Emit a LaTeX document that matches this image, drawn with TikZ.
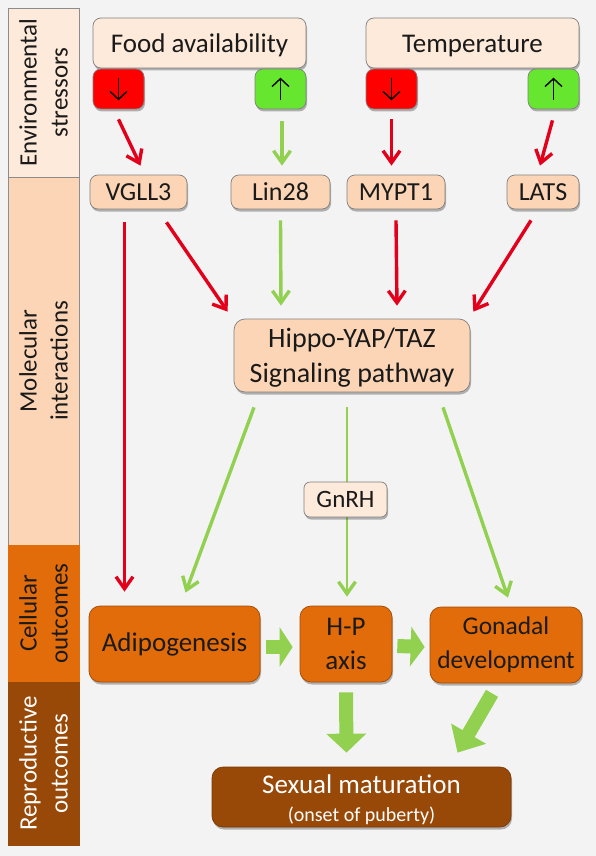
\documentclass[tikz,border=0pt]{standalone}
\usepackage{fontspec}
\setmainfont{Carlito}
\usetikzlibrary{arrows.meta,shadows,calc}
\definecolor{bgc}{HTML}{F3F3F4}
\definecolor{envc}{HTML}{FDEADA}
\definecolor{molc}{HTML}{FBD5B5}
\definecolor{celc}{HTML}{E36C0A}
\definecolor{repc}{HTML}{984807}
\definecolor{arr g}{HTML}{92D050}
\definecolor{arr r}{HTML}{E3001B}
\definecolor{boxg}{HTML}{66E62E}
\definecolor{txt}{HTML}{1A1A1A}
\tikzset{
  x=1pt,y=-1pt,
  side/.style={draw=black!45,line width=.5pt,minimum height=71pt,anchor=center,rotate=90,align=center,inner sep=0pt,font=\fontsize{25}{31}\selectfont,text=txt},
  rbox/.style={rounded corners=8pt,draw=black!50,line width=.7pt,align=center,inner sep=0pt,text=txt,
     drop shadow={shadow xshift=1pt,shadow yshift=-2.5pt,opacity=.28,fill=black}},
  light/.style={rbox,fill=envc,font=\fontsize{27}{32}\selectfont},
  mol/.style={rbox,fill=molc,font=\fontsize{26}{30}\selectfont},
  cel/.style={rbox,rounded corners=11pt,fill=celc,draw=celc!70!black,font=\fontsize{27}{34}\selectfont},
  thinr/.style={arr r,line width=3.4pt,-{Straight Barb[length=12pt,width=17pt,line width=3.4pt]}},
  thing/.style={arr g,line width=3.4pt,-{Straight Barb[length=12pt,width=17pt,line width=3.4pt]}},
  blockg/.style={arr g,line width=14pt,-{Triangle[length=#1,width=39pt]}},
  glyph/.style={black,line width=1.4pt,-{Straight Barb[length=8pt,width=17pt,line width=1.4pt]}},
}
\begin{document}
\begin{tikzpicture}
\useasboundingbox (0,0) rectangle (596,856);
\fill[bgc] (0,0) rectangle (596,856);
% sidebars
\node[side,fill=envc,minimum width=169pt] (senv) at (43.5,92.5) {Environmental\\stressors};
\node[side,fill=molc,minimum width=368pt] (smol) at (43.5,361) {Molecular\\interactions};
\node[side,fill=celc,draw=celc,minimum width=137pt] (scel) at (43.5,613.5) {Cellular\\outcomes};
\node[side,fill=repc,draw=repc,minimum width=163pt,text=white] (srep) at (43.5,763.5) {Reproductive\\outcomes};
% stressors
\node[light,minimum width=213pt,minimum height=50pt] (food) at (199.5,43) {\rule{0pt}{23pt}Food availability};
\node[light,minimum width=213pt,minimum height=50pt] (temp) at (472.5,43) {\rule{0pt}{23pt}Temperature};
\node[rbox,fill=red,minimum width=51pt,minimum height=40pt] (fr) at (118.5,89) {};
\node[rbox,fill=boxg,minimum width=51pt,minimum height=40pt] (fg) at (280.5,89) {};
\node[rbox,fill=red,minimum width=51pt,minimum height=40pt] (tr) at (391.5,89) {};
\node[rbox,fill=boxg,minimum width=51pt,minimum height=40pt] (tg) at (553.5,89) {};
\foreach \n in {fr,tr} \draw[glyph] ([yshift=-9pt]\n.north) -- ([yshift=9pt]\n.south);
\foreach \n in {fg,tg} \draw[glyph] ([yshift=9pt]\n.south) -- ([yshift=-9pt]\n.north);
% molecules
\node[mol,minimum width=97pt,minimum height=34pt] (vgll) at (138.5,192) {VGLL3};
\node[mol,minimum width=99pt,minimum height=34pt] (lin) at (280.5,192) {Lin28};
\node[mol,minimum width=98pt,minimum height=34pt] (mypt) at (396,192) {MYPT1};
\node[mol,minimum width=72pt,minimum height=34pt] (lats) at (543,192) {LATS};
\node[rbox,rounded corners=11pt,fill=molc,minimum width=236pt,minimum height=73pt,font=\fontsize{28}{35}\selectfont] (hippo) at (352,355.5) {\rule{0pt}{24pt}Hippo-YAP/TAZ\\Signaling pathway};
% outcomes
\node[cel,minimum width=171pt,minimum height=76pt] (adip) at (174.5,644) {Adipogenesis};
\node[cel,minimum width=92pt,minimum height=76pt] (hp) at (346,644) {H-P\\axis};
\node[cel,minimum width=152pt,minimum height=76pt,font=\fontsize{25.5}{34}\selectfont] (gon) at (506,645) {Gonadal\\development};
\node[rbox,rounded corners=11pt,fill=repc,draw=repc!80!black,text=white,minimum width=299pt,minimum height=60pt,font=\fontsize{27}{27}\selectfont] (sex) at (361.5,797) {\rule{0pt}{25pt}Sexual maturation\\[1pt]{\fontsize{20}{20}\selectfont (onset of puberty)}};
% thin arrows, top
\draw[thinr] ([yshift=-10pt]fr.south) -- ([xshift=2pt,yshift=9pt]vgll.north);
\draw[thing] ([xshift=1.5pt,yshift=-12pt]fg.south) -- ([xshift=1.5pt,yshift=9pt]lin.north);
\draw[thinr] ([yshift=-10pt]tr.south) -- ([yshift=9pt]mypt.north -| tr.south);
\draw[thinr] ([xshift=-1pt,yshift=-11pt]tg.south) -- ([xshift=-3pt,yshift=9pt]lats.north);
% thin arrows, middle
\draw[thinr] ([xshift=-14pt,yshift=-13pt]vgll.south) -- ([xshift=-50pt,yshift=14pt]adip.north);
\draw[thinr] ([xshift=28pt,yshift=-13pt]vgll.south) -- ([xshift=-6pt,yshift=7pt]hippo.north west);
\draw[thing] ([yshift=-11pt]lin.south) -- ([xshift=-71pt,yshift=13pt]hippo.north);
\draw[thinr] ([yshift=-11pt]mypt.south) -- ([xshift=45pt,yshift=13pt]hippo.north);
\draw[thinr] ([xshift=-12pt,yshift=-11pt]lats.south) -- ([xshift=3pt,yshift=7pt]hippo.north east);
% thin arrows, lower
\draw[thing] ([xshift=-98pt,yshift=-15pt]hippo.south) -- ([xshift=11pt,yshift=13pt]adip.north);
\draw[thing,line width=2.6pt] ([xshift=-5pt,yshift=-15pt]hippo.south) -- ([xshift=1pt,yshift=9pt]hp.north);
\draw[thing] ([xshift=91pt,yshift=-15pt]hippo.south) -- ([xshift=2pt,yshift=9pt]gon.north);
% GnRH sits on the line from the pathway to the H-P axis
\node[rbox,rounded corners=6pt,fill=envc,minimum width=83pt,minimum height=35pt,font=\fontsize{25}{28}\selectfont] (gnrh) at (345.5,499.5) {GnRH};
% block arrows
\draw[blockg=13pt] ([xshift=6pt,yshift=-3pt]adip.east) -- ([xshift=-7pt,yshift=-3pt]hp.west);
\draw[blockg=14pt] ([xshift=5pt,yshift=-2pt]hp.east) -- ([xshift=-5pt,yshift=-2pt]gon.west);
\draw[blockg=19pt] ([yshift=-10pt]hp.south) -- ([xshift=-15pt,yshift=14pt]sex.north);
\draw[blockg=22pt] ([xshift=-14pt,yshift=-10pt]gon.south) -- ([xshift=96pt,yshift=14pt]sex.north);
\end{tikzpicture}
\end{document}
